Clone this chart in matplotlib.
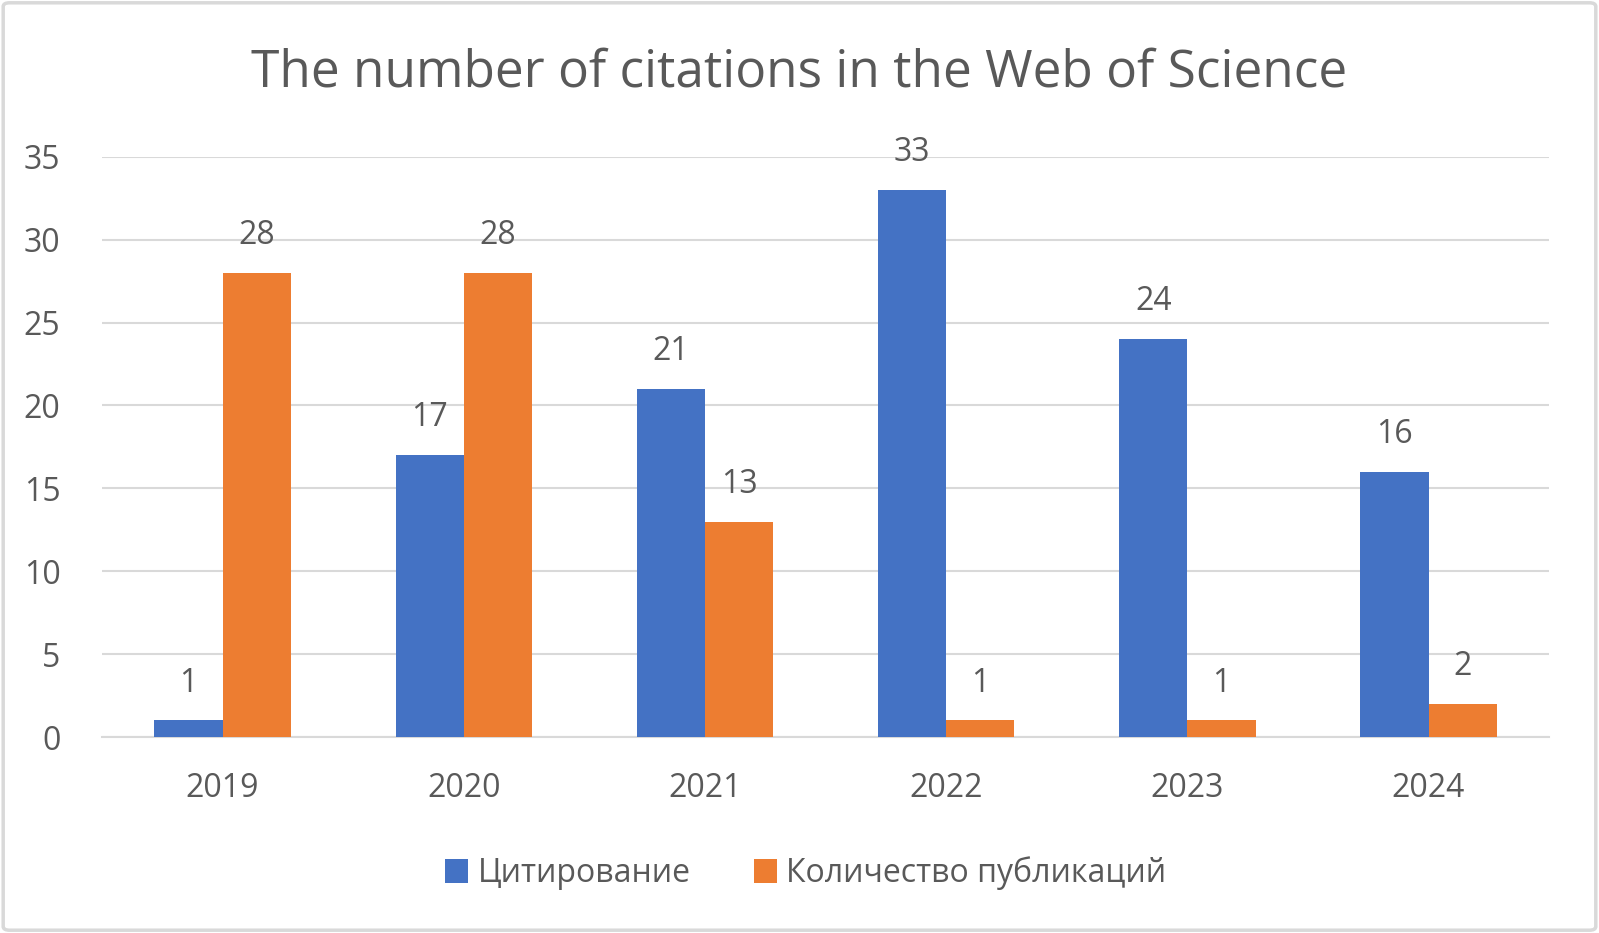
import matplotlib
matplotlib.use("Agg")
import matplotlib.pyplot as plt
import numpy as np
from matplotlib.patches import FancyBboxPatch

years = ["2019", "2020", "2021", "2022", "2023", "2024"]
citations = [1, 17, 21, 33, 24, 16]
publications = [28, 28, 13, 1, 1, 2]
series_names = ["Цитирование", "Количество публикаций"]

plt.rcParams["font.family"] = ["Open Sans", "DejaVu Sans"]
text_col = "#595959"
grid_col = "#D9D9D9"
blue = "#4472C4"
orange = "#ED7D31"

fig = plt.figure(figsize=(15.99, 9.33), dpi=100)
ax = fig.add_axes([0.0638, 0.210, 0.905, 0.622])

# light frame round the whole chart
fig.patches.append(FancyBboxPatch((0.002, 0.003), 0.996, 0.994,
                                  boxstyle="round,pad=0,rounding_size=0.004",
                                  transform=fig.transFigure, fill=False,
                                  edgecolor=grid_col, linewidth=2.5))

x = np.arange(len(years))
w = 0.283
b1 = ax.bar(x - w / 2, citations, w, color=blue, label=series_names[0], zorder=3)
b2 = ax.bar(x + w / 2, publications, w, color=orange, label=series_names[1], zorder=3)

for bars in (b1, b2):
    for rect in bars:
        h = rect.get_height()
        ax.annotate(f"{h:g}", (rect.get_x() + rect.get_width() / 2, h),
                    xytext=(0, 15), textcoords="offset points",
                    ha="center", va="bottom", fontsize=23, color=text_col)

ax.set_xlim(-0.5, len(years) - 0.5)
ax.set_ylim(0, 35)
ax.set_yticks(range(0, 36, 5))
ax.set_xticks(x)
ax.set_xticklabels(years)
ax.tick_params(axis="both", length=0, labelsize=23, labelcolor=text_col)
ax.tick_params(axis="x", pad=25)
ax.tick_params(axis="y", pad=30)
ax.grid(axis="y", color=grid_col, linewidth=1.5, zorder=0)
for s in ("top", "right", "left"):
    ax.spines[s].set_visible(False)
ax.spines["bottom"].set_color(grid_col)
ax.spines["bottom"].set_linewidth(1.5)

fig.text(0.5, 0.922, "The number of citations in the Web of Science",
         ha="center", va="center", fontsize=37, color=text_col)

fig.legend(loc="center", bbox_to_anchor=(0.504, 0.064), ncol=2, frameon=False,
           fontsize=23, labelcolor=text_col, handlelength=0.7, handleheight=0.8,
           handletextpad=0.3, columnspacing=2.0)

fig.savefig("out.png", dpi=100)
